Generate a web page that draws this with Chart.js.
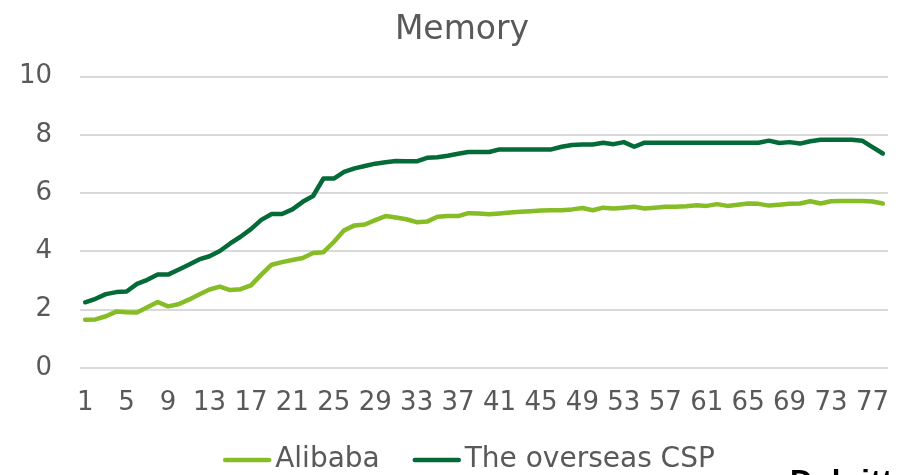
<!DOCTYPE html>
<html>
<head>
<meta charset="utf-8">
<script src="https://cdn.jsdelivr.net/npm/chart.js@4.4.1/dist/chart.umd.min.js"></script>
<style>
  html, body { margin: 0; padding: 0; background: #fff; overflow: hidden; }
  #wrap { position: relative; width: 908px; height: 475px; overflow: hidden; }
  #brand { position: absolute; left: 790px; top: 466px; font: bold 31px "Liberation Sans", Arial, sans-serif;
           line-height: 31px; color: #000; white-space: nowrap; letter-spacing: 1px; }
</style>
</head>
<body>
<div id="wrap">
  <canvas id="c" width="908" height="475"></canvas>
  <div id="brand">Deloitte.</div>
</div>
<script>
// Day index along the x axis
const days = [1,2,3,4,5,6,7,8,9,10,11,12,13,14,15,16,17,18,19,20,
              21,22,23,24,25,26,27,28,29,30,31,32,33,34,35,36,37,38,39,40,
              41,42,43,44,45,46,47,48,49,50,51,52,53,54,55,56,57,58,59,60,
              61,62,63,64,65,66,67,68,69,70,71,72,73,74,75,76,77,78];

// Labels printed under the x axis
const xTickLabels = ['1','5','9','13','17','21','25','29','33','37','41','45','49','53','57','61','65','69','73','77'];

// Y axis range and step
const yMin = 0, yMax = 10, yStep = 2;

// Memory series
const alibaba = [1.65,1.66,1.77,1.93,1.91,1.9,2.08,2.26,2.11,2.18,
                 2.34,2.52,2.69,2.79,2.67,2.7,2.83,3.2,3.54,3.63,
                 3.7,3.77,3.94,3.97,4.32,4.72,4.89,4.92,5.07,5.21,
                 5.16,5.1,5.0,5.02,5.19,5.21,5.21,5.31,5.3,5.27,
                 5.3,5.33,5.36,5.38,5.4,5.41,5.41,5.44,5.49,5.41,
                 5.5,5.47,5.5,5.53,5.47,5.5,5.53,5.53,5.55,5.58,
                 5.56,5.62,5.56,5.6,5.64,5.63,5.57,5.6,5.63,5.64,
                 5.72,5.64,5.72,5.73,5.73,5.73,5.71,5.64];

const overseasCsp = [2.25,2.37,2.53,2.6,2.62,2.88,3.02,3.2,3.2,3.37,
                     3.54,3.72,3.83,4.01,4.27,4.5,4.76,5.08,5.28,5.28,
                     5.44,5.7,5.9,6.5,6.5,6.73,6.85,6.93,7.01,7.06,
                     7.1,7.09,7.09,7.21,7.23,7.28,7.35,7.41,7.41,7.41,
                     7.5,7.5,7.5,7.5,7.5,7.5,7.59,7.65,7.67,7.67,
                     7.73,7.68,7.75,7.59,7.73,7.73,7.73,7.73,7.73,7.73,
                     7.73,7.73,7.73,7.73,7.73,7.73,7.8,7.72,7.75,7.7,
                     7.78,7.83,7.83,7.83,7.83,7.8,7.58,7.36];

const seriesNames = ['Alibaba', 'The overseas CSP'];
const seriesColors = ['#86BC25', '#046A38'];

const TEXT = '#595959';
const FONT = '"DejaVu Sans", Verdana, sans-serif';

function lineSet(label, data, color) {
  return {
    label, data,
    borderColor: color, backgroundColor: color,
    borderWidth: 4.5, pointRadius: 0, pointHoverRadius: 0,
    tension: 0, borderCapStyle: 'round', borderJoinStyle: 'round', fill: false
  };
}

// Series key under the axis: short line sample followed by the series name
const seriesKey = {
  id: 'seriesKey',
  afterDraw(chart, args, opts) {
    const ctx = chart.ctx;
    const sample = opts.sample, gap = opts.gap, spacing = opts.spacing;
    ctx.save();
    ctx.font = `${opts.size}px ${FONT}`;
    const items = chart.data.datasets.map(ds => ({
      text: ds.label, color: ds.borderColor, width: ctx.measureText(ds.label).width
    }));
    const total = items.reduce((s, it) => s + sample + gap + it.width, 0) + spacing * (items.length - 1);
    let x = opts.centerX - total / 2;
    const y = opts.y;
    items.forEach(it => {
      ctx.strokeStyle = it.color;
      ctx.lineWidth = 4.5;
      ctx.lineCap = 'round';
      ctx.beginPath();
      ctx.moveTo(x + 2, y);
      ctx.lineTo(x + sample - 2, y);
      ctx.stroke();
      ctx.fillStyle = TEXT;
      ctx.textBaseline = 'middle';
      ctx.textAlign = 'left';
      ctx.fillText(it.text, x + sample + gap, y);
      x += sample + gap + it.width + spacing;
    });
    ctx.restore();
  }
};

new Chart(document.getElementById('c').getContext('2d'), {
  type: 'line',
  data: {
    labels: days.map(String),
    datasets: [
      lineSet(seriesNames[0], alibaba, seriesColors[0]),
      lineSet(seriesNames[1], overseasCsp, seriesColors[1])
    ]
  },
  plugins: [seriesKey],
  options: {
    responsive: false,
    animation: false,
    devicePixelRatio: 1,
    layout: { padding: { left: 16, right: 0, top: 0, bottom: 36 } },
    plugins: {
      title: {
        display: true, text: 'Memory', color: TEXT,
        font: { family: FONT, size: 33, weight: 'normal' },
        padding: { top: 11, bottom: 26 }
      },
      legend: { display: false },
      tooltip: { enabled: false },
      seriesKey: { size: 28, sample: 48, gap: 4, spacing: 33, centerX: 469, y: 460 }
    },
    scales: {
      x: {
        type: 'category', offset: true,
        grid: { display: false, drawTicks: false },
        border: { display: false },
        ticks: {
          autoSkip: false, maxRotation: 0, minRotation: 0, padding: 20,
          color: TEXT, font: { family: FONT, size: 26 },
          callback: function (v) {
            const l = this.getLabelForValue(v);
            return xTickLabels.includes(l) ? l : '';
          }
        }
      },
      y: {
        min: yMin, max: yMax,
        grid: { color: '#d9d9d9', lineWidth: 2, drawTicks: false },
        border: { display: false },
        ticks: { stepSize: yStep, padding: 28, color: TEXT, font: { family: FONT, size: 26 } },
        afterFit: (s) => { s.width = 64; }
      },
      yRight: {
        position: 'right', display: true,
        grid: { display: false, drawTicks: false },
        border: { display: false },
        ticks: { display: false },
        afterFit: (s) => { s.width = 20; }
      }
    }
  }
});
</script>
</body>
</html>
